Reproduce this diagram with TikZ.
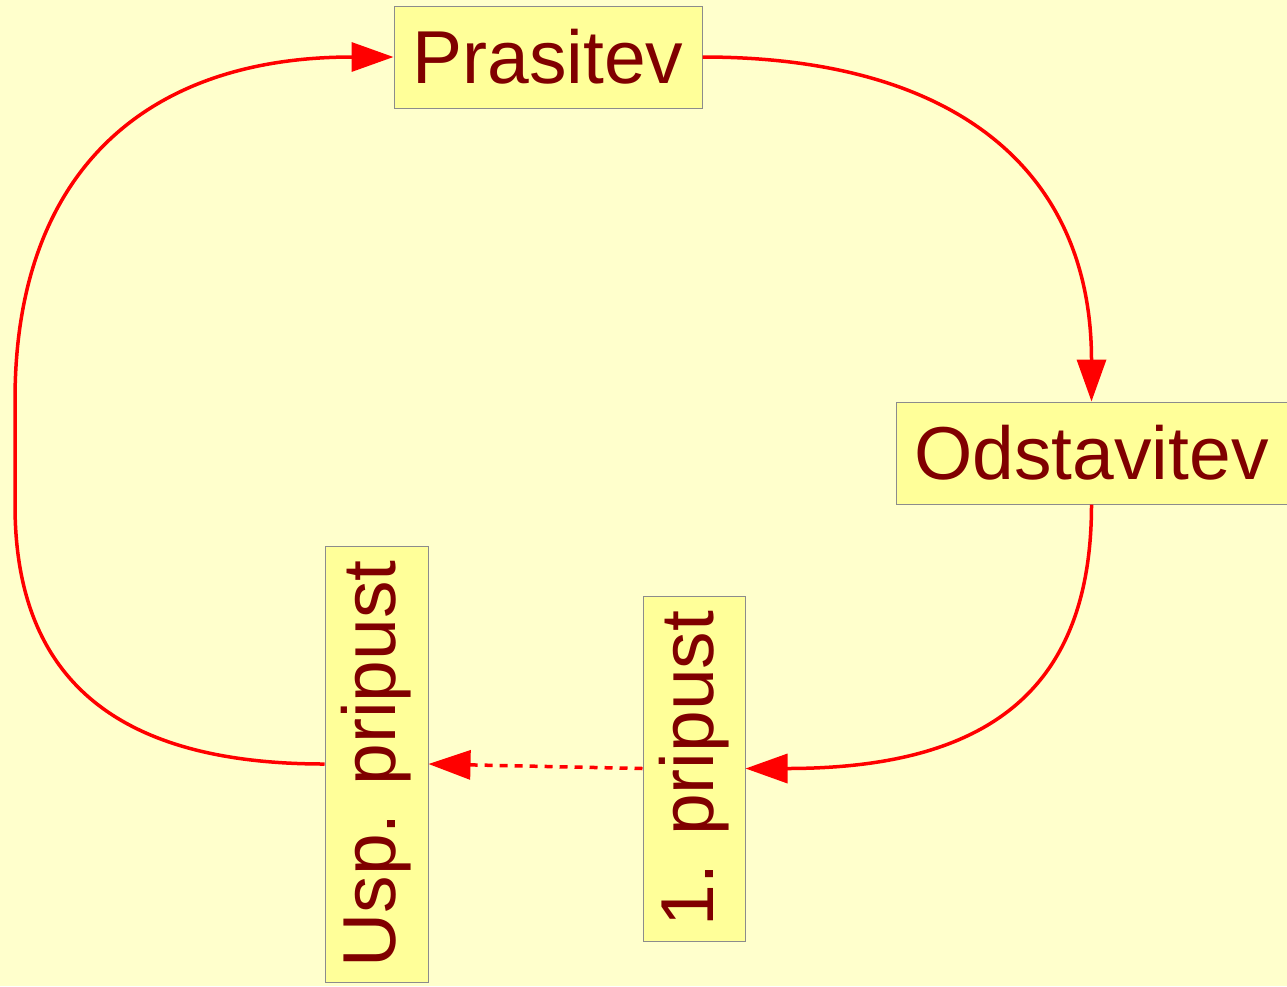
\documentclass[tikz,border=0pt]{standalone}
\usepackage{fontspec}
\setmainfont{Liberation Sans}
\usetikzlibrary{arrows.meta}
\definecolor{bg}{HTML}{FFFFCC}
\definecolor{boxfill}{HTML}{FFFF99}
\definecolor{txt}{HTML}{800000}
\definecolor{lnk}{HTML}{FF0000}
\definecolor{edge}{HTML}{8C8C8C}
\begin{document}
\begin{tikzpicture}[x=1pt,y=-1pt,
  box/.style={rectangle, draw=edge, line width=1pt, fill=boxfill, text=txt,
    font=\fontsize{75}{90}\selectfont, inner sep=0pt},
  link/.style={draw=lnk, line width=3.5pt, -{Triangle[length=42pt,width=29pt]}},
  dashlink/.style={link, dash pattern=on 8pt off 7pt}
]
\fill[bg] (0,0) rectangle (1287,986);
\useasboundingbox (0,0) rectangle (1287,986);
\node[box, minimum width=308pt, minimum height=102pt] (pras) at (548,57) {Prasitev};
\node[box, minimum width=391pt, minimum height=102pt] (odst) at (1091.5,453) {Odstavitev};
\node[box, minimum width=102pt, minimum height=345pt] (prip) at (694,768.5) {\rotatebox{90}{1. pripust}};
\node[box, minimum width=103pt, minimum height=436pt] (usp) at (376.5,764) {\rotatebox{90}{Usp. pripust}};
\coordinate (l1) at (15,505);
\coordinate (l2) at (15,400);
\draw[link] (pras.east) .. controls +(257,0) and +(0,-228) .. (odst.north);
\draw[link] (odst.south) .. controls +(0,185) and +(243,0) .. (prip.east);
\draw[dashlink] (prip.west) -- (usp.east);
\draw[link] (usp.west) .. controls +(-208,0) and +(0,174) .. (l1) -- (l2) .. controls +(0,-226) and +(-250,0) .. (pras.west);
\end{tikzpicture}
\end{document}
